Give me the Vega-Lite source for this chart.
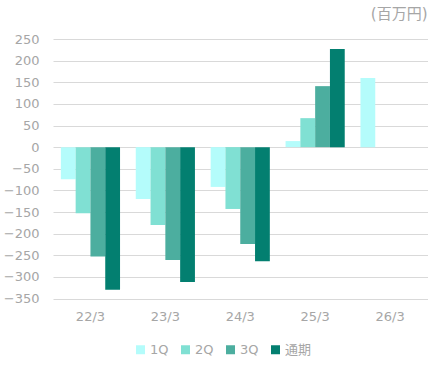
{
  "$schema": "https://vega.github.io/schema/vega-lite/v6.json",
  "width": 374.5,
  "height": 259.5,
  "autosize": {"type": "none"},
  "padding": {"left": 53, "top": 39, "right": 10, "bottom": 75},
  "background": "white",
  "title": {"text": "(百万円)", "anchor": "end", "orient": "top", "offset": 11, "fontSize": 15, "fontWeight": "normal", "color": "#a6a6a6", "font": "DejaVu Sans, Noto Sans CJK JP"},
  "data": {"values": [
    {"year": "22/3", "q": "1Q", "v": -74},
    {"year": "22/3", "q": "2Q", "v": -153},
    {"year": "22/3", "q": "3Q", "v": -253},
    {"year": "22/3", "q": "通期", "v": -330},
    {"year": "23/3", "q": "1Q", "v": -120},
    {"year": "23/3", "q": "2Q", "v": -180},
    {"year": "23/3", "q": "3Q", "v": -261},
    {"year": "23/3", "q": "通期", "v": -312},
    {"year": "24/3", "q": "1Q", "v": -92},
    {"year": "24/3", "q": "2Q", "v": -143},
    {"year": "24/3", "q": "3Q", "v": -224},
    {"year": "24/3", "q": "通期", "v": -264},
    {"year": "25/3", "q": "1Q", "v": 14},
    {"year": "25/3", "q": "2Q", "v": 67},
    {"year": "25/3", "q": "3Q", "v": 141},
    {"year": "25/3", "q": "通期", "v": 227},
    {"year": "26/3", "q": "1Q", "v": 160}
  ]},
  "mark": {"type": "bar"},
  "encoding": {
    "x": {"field": "year", "type": "nominal", "sort": null,
      "scale": {"paddingInner": 0.21, "paddingOuter": 0.105},
      "axis": {"title": null, "labelAngle": 0, "domain": false, "ticks": false, "labelPadding": 12, "labelFontSize": 13, "labelColor": "#a6a6a6", "labelFont": "DejaVu Sans", "grid": false}},
    "xOffset": {"field": "q", "type": "nominal", "sort": ["1Q", "2Q", "3Q", "通期"], "scale": {"paddingInner": 0, "paddingOuter": 0}},
    "y": {"field": "v", "type": "quantitative",
      "scale": {"domain": [-350, 250], "nice": false, "zero": false},
      "axis": {"title": null, "values": [-350, -300, -250, -200, -150, -100, -50, 0, 50, 100, 150, 200, 250], "domain": false, "ticks": false, "labelPadding": 14, "labelFontSize": 13, "labelColor": "#a6a6a6", "labelFont": "DejaVu Sans", "gridColor": "#d9d9d9", "gridWidth": 1}},
    "color": {"field": "q", "type": "nominal", "sort": ["1Q", "2Q", "3Q", "通期"],
      "scale": {"domain": ["1Q", "2Q", "3Q", "通期"], "range": ["#b4fcfb", "#80e0d3", "#4cae9f", "#037f70"]},
      "legend": {"title": null, "orient": "none", "direction": "horizontal", "legendX": 81, "legendY": 304, "symbolType": "square", "symbolSize": 81, "symbolStrokeWidth": 0, "symbolOpacity": 1, "labelFontSize": 13, "labelColor": "#a6a6a6", "labelFont": "DejaVu Sans, Noto Sans CJK JP", "labelOffset": 3, "columnPadding": 10}}
  },
  "config": {"view": {"stroke": null}}
}
